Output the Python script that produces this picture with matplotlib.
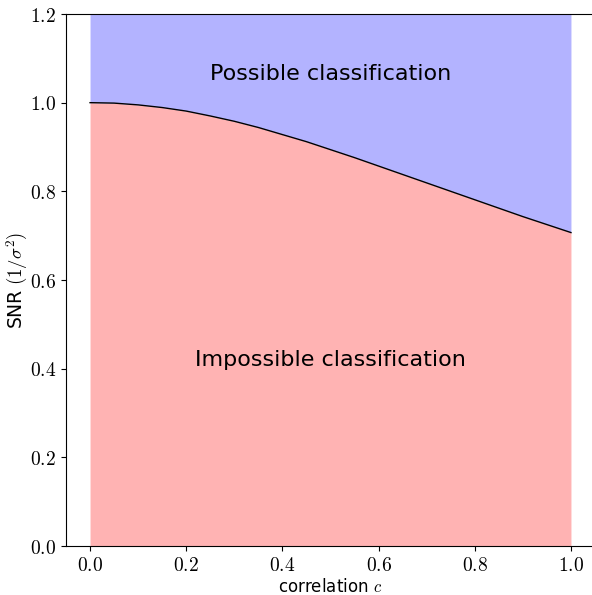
import matplotlib
matplotlib.use("Agg")
from matplotlib import pyplot as plt
from matplotlib.ticker import FuncFormatter
import numpy as np

# boundary curve
corr = [0.0, 0.05, 0.1, 0.15, 0.2, 0.25, 0.3, 0.35, 0.4, 0.45, 0.5,
        0.55, 0.6, 0.65, 0.7, 0.75, 0.8, 0.85, 0.9, 0.95, 1.0]
snr = [1.0, 0.999, 0.995, 0.989, 0.981, 0.970, 0.958, 0.944, 0.928, 0.912, 0.894,
       0.876, 0.857, 0.838, 0.819, 0.800, 0.781, 0.762, 0.743, 0.725, 0.707]
ytop = 1.2

plt.rcParams['mathtext.fontset'] = 'cm'

fig = plt.figure(figsize=(5.92, 5.95), dpi=100)
ax = fig.add_axes([66/592, 49/595, 529/592, 532/595])

ax.fill_between(corr, 0, snr, color=(1, 0.7, 0.7), lw=0)
ax.fill_between(corr, snr, ytop, color=(0.7, 0.7, 1), lw=0)
ax.plot(corr, snr, 'k', lw=1)

ax.text(0.5, 1.065, 'Possible classification', ha='center', va='center', fontsize=16)
ax.text(0.5, 0.42, 'Impossible classification', ha='center', va='center', fontsize=16)

ax.set_xlim(-0.05, 1.05)
ax.set_ylim(0, ytop)
ax.set_xticks(np.arange(0, 1.01, 0.2))
ax.set_yticks(np.arange(0, 1.21, 0.2))
fmt = FuncFormatter(lambda v, p: '$%.1f$' % v)
ax.xaxis.set_major_formatter(fmt)
ax.yaxis.set_major_formatter(fmt)
ax.tick_params(labelsize=14)
ax.spines['right'].set_visible(False)

ax.set_xlabel('correlation $c$', fontsize=12, labelpad=2)
ax.set_ylabel('SNR $(1/\\sigma^2)$', fontsize=13.5, labelpad=0)

plt.savefig('out.png', dpi=100)
